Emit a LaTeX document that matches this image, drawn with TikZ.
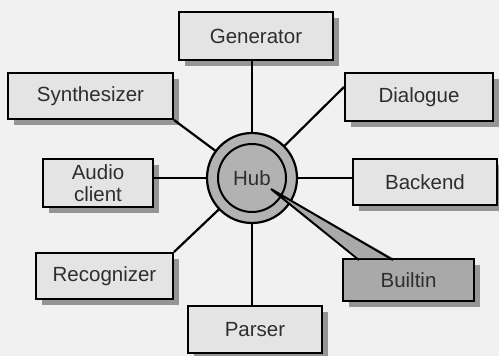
\documentclass[tikz,border=0pt]{standalone}
\usepackage{fontspec}
\setmainfont{Liberation Sans}
\definecolor{bgcol}{HTML}{F1F1F1}
\definecolor{boxfill}{HTML}{E4E4E4}
\definecolor{shadowgray}{HTML}{959595}
\definecolor{hubfill}{HTML}{B2B2B2}
\definecolor{builtfill}{HTML}{A9A9A9}
\definecolor{textgray}{HTML}{2E2E2E}
% module box with its drop shadow: [fill]{name}{x}{y}{width}{height}{text}
\newcommand{\modbox}[7][boxfill]{%
  \node[shadowbox, minimum width=#5pt, minimum height=#6pt] (#2-shadow) at (#3+6,#4+6) {};
  \node[module, fill=#1, minimum width=#5pt, minimum height=#6pt] (#2) at (#3,#4) {#7};}
\begin{document}
\begin{tikzpicture}[x=1pt,y=-1pt,
  module/.style={draw=black, line width=2pt, text=textgray,
    font=\fontsize{20.5}{22}\selectfont, inner sep=0pt, align=center},
  shadowbox/.style={fill=shadowgray, draw=none, inner sep=0pt},
  spoke/.style={line width=2.2pt, draw=black}
]
% canvas
\fill[bgcol] (0,0) rectangle (499,356);
\useasboundingbox (0,0) rectangle (499,356);

% hub position
\coordinate (hub) at (252,178);

% modules around the hub
\modbox{gen}{256}{36}{154}{48}{Generator}
\modbox{syn}{90.5}{96}{165}{46}{Synthesizer}
\modbox{aud}{98}{183}{110}{48}{Audio\\client}
\modbox{rec}{104.5}{276}{137}{46}{Recognizer}
\modbox{par}{255}{329.5}{134}{47}{Parser}
\modbox{dia}{419}{97}{148}{48}{Dialogue}
\modbox{bak}{425}{182}{144}{46}{Backend}
\modbox[builtfill]{bui}{408.5}{280}{131}{42}{Builtin}

% spokes from the hub to each module
\draw[spoke] (hub) -- (hub |- gen.south);
\draw[spoke] (hub) -- (hub |- par.north);
\draw[spoke] (hub) -- (hub -| aud.east);
\draw[spoke] (hub) -- (hub -| bak.west);
\draw[spoke] (hub) -- (syn.south east);
\draw[spoke] (hub) -- (rec.north east);
\draw[spoke] (hub) -- ([yshift=10pt]dia.west);

% hub rings
\node[circle, draw=black, line width=2.2pt, fill=hubfill, minimum size=90pt, inner sep=0pt] (hubouter) at (hub) {};
\node[circle, draw=black, line width=2pt, minimum size=68pt, inner sep=0pt] (hubinner) at (hub) {};
\node[text=textgray, font=\fontsize{20.5}{22}\selectfont] (hublabel) at (hub) {Hub};

% callout wedge from the hub into Builtin
\coordinate (tip) at (271,189);
\coordinate (wl) at (359,260);
\coordinate (wr) at (393,260);
\fill[builtfill] (tip) -- ([yshift=2pt]wl) -- ([yshift=2pt]wr) -- cycle;
\draw[line width=2pt, line join=miter] (wl) -- (tip) -- (wr);
\end{tikzpicture}
\end{document}
